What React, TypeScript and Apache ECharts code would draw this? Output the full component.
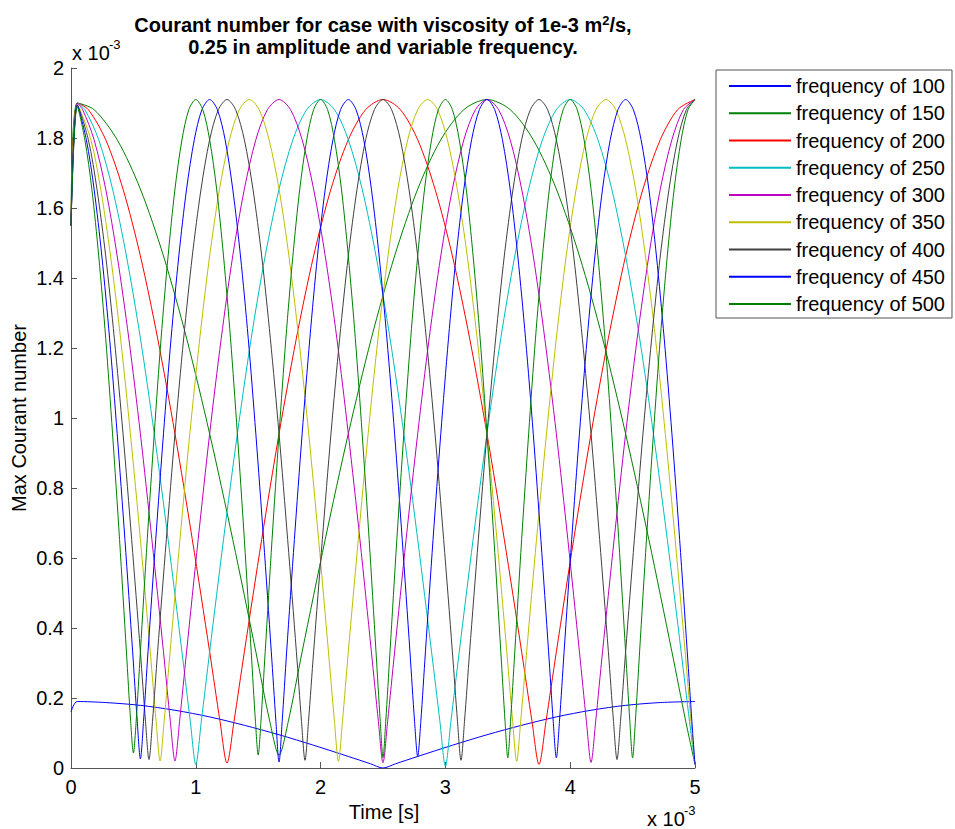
import React, { useEffect, useRef } from 'react';
import * as echarts from 'echarts';

const FONT = '"Liberation Sans", Arial, Helvetica, sans-serif';

// Time values in units of 1e-3 s, Courant number in units of 1e-3
const freq100: [number, number][] = [[0,0.16],[0.05,0.19],[0.278,0.187],[0.556,0.179],[0.833,0.165],[1.111,0.146],[1.389,0.122],[1.667,0.095],[1.944,0.065],[2.222,0.033],[2.4,0.012],[2.5,0.0],[2.6,0.012],[2.778,0.033],[3.056,0.065],[3.333,0.095],[3.611,0.122],[3.889,0.146],[4.167,0.165],[4.444,0.179],[4.722,0.187],[5,0.19]];

const freq150: [number, number][] = [[0,1.55],[0.05,1.9],[0.185,1.881],[0.37,1.795],[0.556,1.654],[0.741,1.463],[0.926,1.228],[1.111,0.955],[1.296,0.653],[1.481,0.332],[1.593,0.133],[1.667,0.037],[1.741,0.133],[1.852,0.332],[2.037,0.653],[2.222,0.955],[2.407,1.228],[2.593,1.463],[2.778,1.654],[2.963,1.795],[3.148,1.881],[3.333,1.91],[3.519,1.881],[3.704,1.795],[3.889,1.654],[4.074,1.463],[4.259,1.228],[4.444,0.955],[4.63,0.653],[4.815,0.332],[4.926,0.133],[5,0.01]];

const freq200: [number, number][] = [[0,1.55],[0.05,1.9],[0.139,1.881],[0.278,1.795],[0.417,1.654],[0.556,1.463],[0.694,1.228],[0.833,0.955],[0.972,0.653],[1.111,0.332],[1.194,0.133],[1.25,0.014],[1.306,0.133],[1.389,0.332],[1.528,0.653],[1.667,0.955],[1.806,1.228],[1.944,1.463],[2.083,1.654],[2.222,1.795],[2.361,1.881],[2.5,1.91],[2.639,1.881],[2.778,1.795],[2.917,1.654],[3.056,1.463],[3.194,1.228],[3.333,0.955],[3.472,0.653],[3.611,0.332],[3.694,0.133],[3.75,0.01],[3.806,0.133],[3.889,0.332],[4.028,0.653],[4.167,0.955],[4.306,1.228],[4.444,1.463],[4.583,1.654],[4.722,1.795],[4.861,1.881],[5,1.91]];

const freq250: [number, number][] = [[0,1.55],[0.05,1.9],[0.111,1.881],[0.222,1.795],[0.333,1.654],[0.444,1.463],[0.556,1.228],[0.667,0.955],[0.778,0.653],[0.889,0.332],[0.956,0.133],[1,0.01],[1.044,0.133],[1.111,0.332],[1.222,0.653],[1.333,0.955],[1.444,1.228],[1.556,1.463],[1.667,1.654],[1.778,1.795],[1.889,1.881],[2,1.91],[2.111,1.881],[2.222,1.795],[2.333,1.654],[2.444,1.463],[2.556,1.228],[2.667,0.955],[2.778,0.653],[2.889,0.332],[2.956,0.133],[3,0.005],[3.044,0.133],[3.111,0.332],[3.222,0.653],[3.333,0.955],[3.444,1.228],[3.556,1.463],[3.667,1.654],[3.778,1.795],[3.889,1.881],[4,1.91],[4.111,1.881],[4.222,1.795],[4.333,1.654],[4.444,1.463],[4.556,1.228],[4.667,0.955],[4.778,0.653],[4.889,0.332],[4.956,0.133],[5,0.01]];

const freq300: [number, number][] = [[0,1.55],[0.05,1.9],[0.093,1.881],[0.185,1.795],[0.278,1.654],[0.37,1.463],[0.463,1.228],[0.556,0.955],[0.648,0.653],[0.741,0.332],[0.796,0.133],[0.833,0.02],[0.87,0.133],[0.926,0.332],[1.019,0.653],[1.111,0.955],[1.204,1.228],[1.296,1.463],[1.389,1.654],[1.481,1.795],[1.574,1.881],[1.667,1.91],[1.759,1.881],[1.852,1.795],[1.944,1.654],[2.037,1.463],[2.13,1.228],[2.222,0.955],[2.315,0.653],[2.407,0.332],[2.463,0.133],[2.5,0.015],[2.537,0.133],[2.593,0.332],[2.685,0.653],[2.778,0.955],[2.87,1.228],[2.963,1.463],[3.056,1.654],[3.148,1.795],[3.241,1.881],[3.333,1.91],[3.426,1.881],[3.519,1.795],[3.611,1.654],[3.704,1.463],[3.796,1.228],[3.889,0.955],[3.981,0.653],[4.074,0.332],[4.13,0.133],[4.167,0.016],[4.204,0.133],[4.259,0.332],[4.352,0.653],[4.444,0.955],[4.537,1.228],[4.63,1.463],[4.722,1.654],[4.815,1.795],[4.907,1.881],[5,1.91]];

const freq350: [number, number][] = [[0,1.55],[0.05,1.895],[0.159,1.795],[0.238,1.654],[0.317,1.463],[0.397,1.228],[0.476,0.955],[0.556,0.653],[0.635,0.332],[0.682,0.133],[0.714,0.02],[0.746,0.133],[0.794,0.332],[0.873,0.653],[0.952,0.955],[1.032,1.228],[1.111,1.463],[1.19,1.654],[1.27,1.795],[1.349,1.881],[1.429,1.91],[1.508,1.881],[1.587,1.795],[1.667,1.654],[1.746,1.463],[1.825,1.228],[1.905,0.955],[1.984,0.653],[2.063,0.332],[2.111,0.133],[2.143,0.019],[2.175,0.133],[2.222,0.332],[2.302,0.653],[2.381,0.955],[2.46,1.228],[2.54,1.463],[2.619,1.654],[2.698,1.795],[2.778,1.881],[2.857,1.91],[2.937,1.881],[3.016,1.795],[3.095,1.654],[3.175,1.463],[3.254,1.228],[3.333,0.955],[3.413,0.653],[3.492,0.332],[3.539,0.133],[3.571,0.019],[3.603,0.133],[3.651,0.332],[3.73,0.653],[3.81,0.955],[3.889,1.228],[3.968,1.463],[4.048,1.654],[4.127,1.795],[4.206,1.881],[4.286,1.91],[4.365,1.881],[4.444,1.795],[4.524,1.654],[4.603,1.463],[4.683,1.228],[4.762,0.955],[4.841,0.653],[4.921,0.332],[4.968,0.133],[5,0.01]];

const freq400: [number, number][] = [[0,1.55],[0.05,1.895],[0.139,1.795],[0.208,1.654],[0.278,1.463],[0.347,1.228],[0.417,0.955],[0.486,0.653],[0.556,0.332],[0.597,0.133],[0.625,0.024],[0.653,0.133],[0.694,0.332],[0.764,0.653],[0.833,0.955],[0.903,1.228],[0.972,1.463],[1.042,1.654],[1.111,1.795],[1.181,1.881],[1.25,1.91],[1.319,1.881],[1.389,1.795],[1.458,1.654],[1.528,1.463],[1.597,1.228],[1.667,0.955],[1.736,0.653],[1.806,0.332],[1.847,0.133],[1.875,0.022],[1.903,0.133],[1.944,0.332],[2.014,0.653],[2.083,0.955],[2.153,1.228],[2.222,1.463],[2.292,1.654],[2.361,1.795],[2.431,1.881],[2.5,1.91],[2.569,1.881],[2.639,1.795],[2.708,1.654],[2.778,1.463],[2.847,1.228],[2.917,0.955],[2.986,0.653],[3.056,0.332],[3.097,0.133],[3.125,0.022],[3.153,0.133],[3.194,0.332],[3.264,0.653],[3.333,0.955],[3.403,1.228],[3.472,1.463],[3.542,1.654],[3.611,1.795],[3.681,1.881],[3.75,1.91],[3.819,1.881],[3.889,1.795],[3.958,1.654],[4.028,1.463],[4.097,1.228],[4.167,0.955],[4.236,0.653],[4.306,0.332],[4.347,0.133],[4.375,0.024],[4.403,0.133],[4.444,0.332],[4.514,0.653],[4.583,0.955],[4.653,1.228],[4.722,1.463],[4.792,1.654],[4.861,1.795],[4.931,1.881],[5,1.91]];

const freq450: [number, number][] = [[0,1.55],[0.05,1.893],[0.123,1.795],[0.185,1.654],[0.247,1.463],[0.309,1.228],[0.37,0.955],[0.432,0.653],[0.494,0.332],[0.531,0.133],[0.556,0.026],[0.581,0.133],[0.617,0.332],[0.679,0.653],[0.741,0.955],[0.802,1.228],[0.864,1.463],[0.926,1.654],[0.988,1.795],[1.049,1.881],[1.111,1.91],[1.173,1.881],[1.235,1.795],[1.296,1.654],[1.358,1.463],[1.42,1.228],[1.481,0.955],[1.543,0.653],[1.605,0.332],[1.642,0.133],[1.667,0.017],[1.692,0.133],[1.728,0.332],[1.79,0.653],[1.852,0.955],[1.914,1.228],[1.975,1.463],[2.037,1.654],[2.099,1.795],[2.16,1.881],[2.222,1.91],[2.284,1.881],[2.346,1.795],[2.407,1.654],[2.469,1.463],[2.531,1.228],[2.593,0.955],[2.654,0.653],[2.716,0.332],[2.753,0.133],[2.778,0.033],[2.803,0.133],[2.84,0.332],[2.901,0.653],[2.963,0.955],[3.025,1.228],[3.086,1.463],[3.148,1.654],[3.21,1.795],[3.272,1.881],[3.333,1.91],[3.395,1.881],[3.457,1.795],[3.519,1.654],[3.58,1.463],[3.642,1.228],[3.704,0.955],[3.765,0.653],[3.827,0.332],[3.864,0.133],[3.889,0.029],[3.914,0.133],[3.951,0.332],[4.012,0.653],[4.074,0.955],[4.136,1.228],[4.198,1.463],[4.259,1.654],[4.321,1.795],[4.383,1.881],[4.444,1.91],[4.506,1.881],[4.568,1.795],[4.63,1.654],[4.691,1.463],[4.753,1.228],[4.815,0.955],[4.877,0.653],[4.938,0.332],[4.975,0.133],[5,0.01]];

const freq500: [number, number][] = [[0,1.55],[0.05,1.89],[0.111,1.795],[0.167,1.654],[0.222,1.463],[0.278,1.228],[0.333,0.955],[0.389,0.653],[0.444,0.332],[0.478,0.133],[0.5,0.043],[0.522,0.133],[0.556,0.332],[0.611,0.653],[0.667,0.955],[0.722,1.228],[0.778,1.463],[0.833,1.654],[0.889,1.795],[0.944,1.881],[1,1.91],[1.056,1.881],[1.111,1.795],[1.167,1.654],[1.222,1.463],[1.278,1.228],[1.333,0.955],[1.389,0.653],[1.444,0.332],[1.478,0.133],[1.5,0.037],[1.522,0.133],[1.556,0.332],[1.611,0.653],[1.667,0.955],[1.722,1.228],[1.778,1.463],[1.833,1.654],[1.889,1.795],[1.944,1.881],[2,1.91],[2.056,1.881],[2.111,1.795],[2.167,1.654],[2.222,1.463],[2.278,1.228],[2.333,0.955],[2.389,0.653],[2.444,0.332],[2.478,0.133],[2.5,0.03],[2.522,0.133],[2.556,0.332],[2.611,0.653],[2.667,0.955],[2.722,1.228],[2.778,1.463],[2.833,1.654],[2.889,1.795],[2.944,1.881],[3,1.91],[3.056,1.881],[3.111,1.795],[3.167,1.654],[3.222,1.463],[3.278,1.228],[3.333,0.955],[3.389,0.653],[3.444,0.332],[3.478,0.133],[3.5,0.029],[3.522,0.133],[3.556,0.332],[3.611,0.653],[3.667,0.955],[3.722,1.228],[3.778,1.463],[3.833,1.654],[3.889,1.795],[3.944,1.881],[4,1.91],[4.056,1.881],[4.111,1.795],[4.167,1.654],[4.222,1.463],[4.278,1.228],[4.333,0.955],[4.389,0.653],[4.444,0.332],[4.478,0.133],[4.5,0.029],[4.522,0.133],[4.556,0.332],[4.611,0.653],[4.667,0.955],[4.722,1.228],[4.778,1.463],[4.833,1.654],[4.889,1.795],[4.944,1.881],[5,1.91]];

const seriesNames = ['frequency of 100','frequency of 150','frequency of 200','frequency of 250','frequency of 300','frequency of 350','frequency of 400','frequency of 450','frequency of 500'];
const seriesData = [freq100, freq150, freq200, freq250, freq300, freq350, freq400, freq450, freq500];
const seriesColors = ['#0000ff','#008000','#ff0000','#00bfbf','#bf00bf','#bfbf00','#404040','#0000ff','#008000'];

const titleLine1 = 'Courant number for case with viscosity of 1e-3 m';
const titleSup = '2';
const titleLine1End = '/s,';
const titleLine2 = '0.25 in amplitude and variable frequency.';
const xAxisTitle = 'Time [s]';
const yAxisTitle = 'Max Courant number';
const scaleBase = 'x 10';
const scaleExp = '-3';

export default function App() {
  const ref = useRef<HTMLDivElement>(null);
  useEffect(() => {
    const chart = echarts.init(ref.current!, null, { renderer: 'svg' });
    const axisColor = '#555555';
    chart.setOption({
      animation: false,
      backgroundColor: '#ffffff',
      grid: { left: 71, right: 260, top: 68, bottom: 61, containLabel: false },
      xAxis: {
        type: 'value', min: 0, max: 5, interval: 1,
        axisLine: { show: true, onZero: false, lineStyle: { color: axisColor, width: 1 } },
        axisTick: { show: true, inside: true, length: 6, lineStyle: { color: axisColor } },
        axisLabel: { fontSize: 20, color: '#000', fontFamily: FONT, margin: 9, formatter: (v: number) => String(+v.toFixed(2)) },
        splitLine: { show: false },
      },
      yAxis: {
        type: 'value', min: 0, max: 2, interval: 0.2,
        axisLine: { show: true, onZero: false, lineStyle: { color: axisColor, width: 1 } },
        axisTick: { show: true, inside: true, length: 6, lineStyle: { color: axisColor } },
        axisLabel: { fontSize: 20, color: '#000', fontFamily: FONT, margin: 7, formatter: (v: number) => String(+v.toFixed(2)) },
        splitLine: { show: false },
      },
      legend: {
        show: true,
        orient: 'vertical',
        left: 716, top: 70,
        itemWidth: 62, itemHeight: 14, itemGap: 7.25,
        padding: [6, 7, 4, 12],
        borderColor: '#555555', borderWidth: 1,
        backgroundColor: '#ffffff',
        selectedMode: false,
        itemStyle: { opacity: 0 },
        textStyle: { fontSize: 20, fontFamily: FONT, color: '#000', lineHeight: 20 },
        data: seriesNames,
      },
      series: seriesData.map((d, i) => ({
        name: seriesNames[i],
        type: 'line',
        data: d,
        symbol: 'none',
        showSymbol: false,
        smooth: 0.3,
        silent: true,
        lineStyle: { width: 1, color: seriesColors[i] },
        itemStyle: { color: seriesColors[i] },
      })),
      graphic: [
        {
          type: 'text', x: 383, y: 13.5, silent: true,
          style: {
            text: `{t|${titleLine1}}{s|${titleSup}}{t|${titleLine1End}}\n{t|${titleLine2}}`,
            align: 'center', verticalAlign: 'top', textAlign: 'center', textVerticalAlign: 'top',
            fill: '#000', fontFamily: FONT,
            rich: {
              t: { fontSize: 20, fontWeight: 'bold', fontFamily: FONT, lineHeight: 22, fill: '#000', color: '#000' },
              s: { fontSize: 13, fontWeight: 'bold', fontFamily: FONT, lineHeight: 13, verticalAlign: 'top', fill: '#000', color: '#000' },
            },
          },
        },
        { type: 'text', x: 72, y: 53, silent: true, style: { text: scaleBase, fontSize: 20, fontFamily: FONT, fill: '#000', align: 'left', verticalAlign: 'middle', textAlign: 'left', textVerticalAlign: 'middle' } },
        { type: 'text', x: 109, y: 44, silent: true, style: { text: scaleExp, fontSize: 13, fontFamily: FONT, fill: '#000', align: 'left', verticalAlign: 'middle', textAlign: 'left', textVerticalAlign: 'middle' } },
        { type: 'text', x: 647, y: 819, silent: true, style: { text: scaleBase, fontSize: 20, fontFamily: FONT, fill: '#000', align: 'left', verticalAlign: 'middle', textAlign: 'left', textVerticalAlign: 'middle' } },
        { type: 'text', x: 684, y: 810, silent: true, style: { text: scaleExp, fontSize: 13, fontFamily: FONT, fill: '#000', align: 'left', verticalAlign: 'middle', textAlign: 'left', textVerticalAlign: 'middle' } },
        { type: 'text', x: 384, y: 812, silent: true, style: { text: xAxisTitle, fontSize: 20, fontFamily: FONT, fill: '#000', align: 'center', verticalAlign: 'middle', textAlign: 'center', textVerticalAlign: 'middle' } },
        { type: 'text', x: 19, y: 418, rotation: Math.PI / 2, silent: true, style: { text: yAxisTitle, fontSize: 20, fontFamily: FONT, fill: '#000', align: 'center', verticalAlign: 'middle', textAlign: 'center', textVerticalAlign: 'middle' } },
      ],
    });
    return () => chart.dispose();
  }, []);
  return <div ref={ref} style={{ position: 'fixed', left: 0, top: 0, width: 955, height: 829, background: '#fff' }} />;
}
